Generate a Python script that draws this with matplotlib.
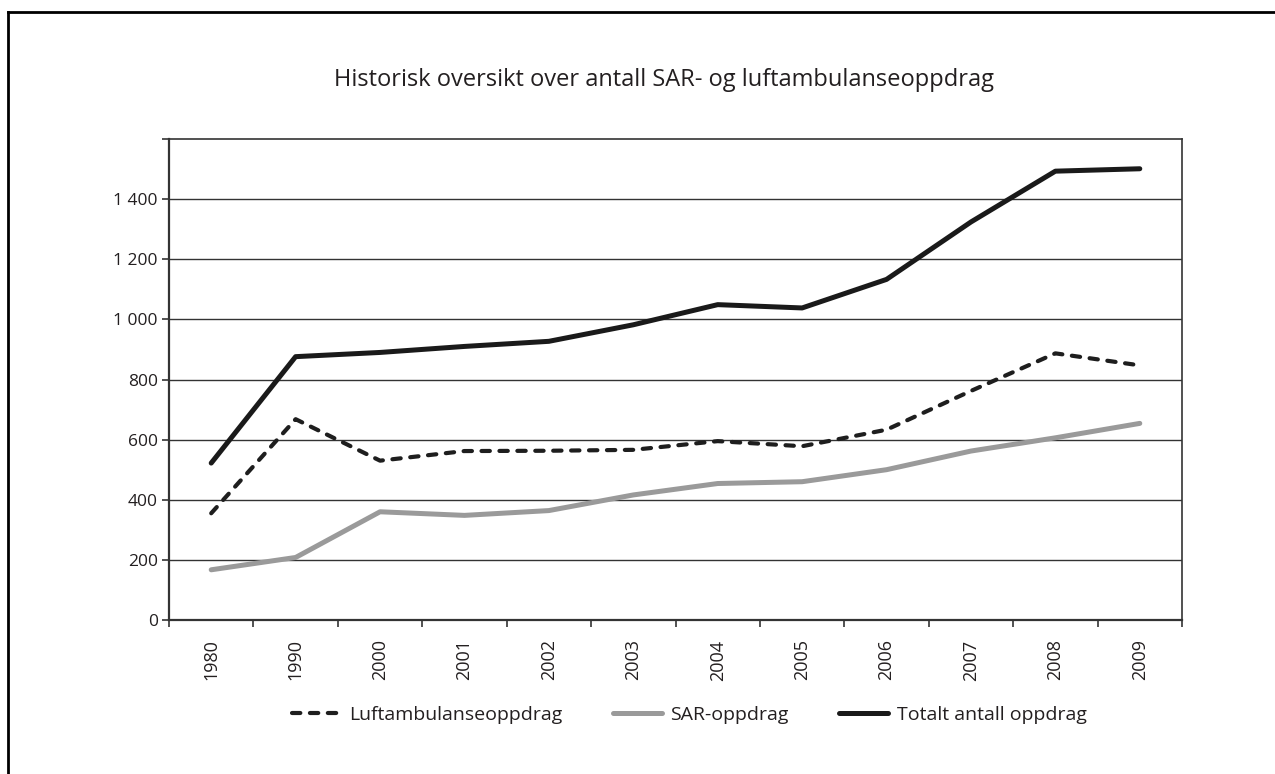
import matplotlib
matplotlib.use("Agg")
import matplotlib.pyplot as plt
from matplotlib.lines import Line2D
import numpy as np

plt.rcParams['font.family'] = ['Open Sans', 'DejaVu Sans']

years = ['1980', '1990', '2000', '2001', '2002', '2003', '2004', '2005',
         '2006', '2007', '2008', '2009']
luftambulanse = [355, 668, 530, 562, 563, 566, 595, 578, 633, 762, 887, 847]
sar = [167, 208, 360, 348, 364, 416, 454, 460, 500, 562, 606, 654]
totalt = [522, 876, 890, 910, 927, 982, 1049, 1038, 1133, 1324, 1493, 1501]

yticks = [0, 200, 400, 600, 800, 1000, 1200, 1400, 1600]
ylabels = ['0', '200', '400', '600', '800', '1 000', '1 200', '1 400', '']

fig = plt.figure(figsize=(12.75, 7.74), dpi=100)
ax = fig.add_axes([169 / 1275, 1 - 620 / 774, (1182 - 169) / 1275, (620 - 139) / 774])

x = np.arange(len(years))
ax.plot(x, luftambulanse, color='#1e1e1e', lw=3.0, dashes=(2.0, 2.3),
        dash_capstyle='round', solid_capstyle='round', label='Luftambulanseoppdrag', zorder=3)
ax.plot(x, sar, color='#9a9a9a', lw=3.6, solid_capstyle='round', label='SAR-oppdrag', zorder=3)
ax.plot(x, totalt, color='#1a1a1a', lw=3.6, solid_capstyle='round',
        label='Totalt antall oppdrag', zorder=4)

ax.set_xlim(-0.5, len(years) - 0.5)
ax.set_ylim(0, 1600)
ax.set_yticks(yticks)
ax.set_yticklabels(ylabels, fontsize=12.5, color='#231f20')
for y in yticks[1:-1]:
    ax.axhline(y, color='#333333', lw=1.0, zorder=1)

ax.set_xticks(np.arange(len(years) + 1) - 0.5)
ax.set_xticklabels([])
ax.set_xticks(x, minor=True)
ax.set_xticklabels(years, minor=True, rotation=90, fontsize=13, color='#231f20')
ax.tick_params(axis='x', which='minor', length=0, pad=14)
ax.tick_params(axis='x', which='major', length=5, width=1.2, direction='out', color='#333333')
ax.tick_params(axis='y', length=5, width=1.2, direction='out', color='#333333', pad=3)
for s in ax.spines.values():
    s.set_color('#333333')
    s.set_linewidth(1.2)
ax.spines['left'].set_linewidth(1.6)
ax.spines['bottom'].set_linewidth(1.6)

fig.text(664 / 1275, 1 - 80 / 774, 'Historisk oversikt over antall SAR- og luftambulanseoppdrag',
         ha='center', va='center', fontsize=17, color='#231f20')

leg = fig.legend(loc='center left', bbox_to_anchor=(292 / 1275, 1 - 715 / 774),
                 ncol=3, frameon=False, fontsize=14, handlelength=2.5,
                 handletextpad=0.45, columnspacing=2.6, borderaxespad=0, borderpad=0)
for t in leg.get_texts():
    t.set_color('#231f20')

# outer frame (top and left edges only)
fig.add_artist(Line2D([7.5 / 1275, 1.0], [1 - 12 / 774, 1 - 12 / 774],
                      transform=fig.transFigure, color='black', lw=2.0))
fig.add_artist(Line2D([7.5 / 1275, 7.5 / 1275], [0.0, 1 - 12 / 774],
                      transform=fig.transFigure, color='black', lw=2.0))

fig.savefig('out.png', dpi=100, facecolor='white')
